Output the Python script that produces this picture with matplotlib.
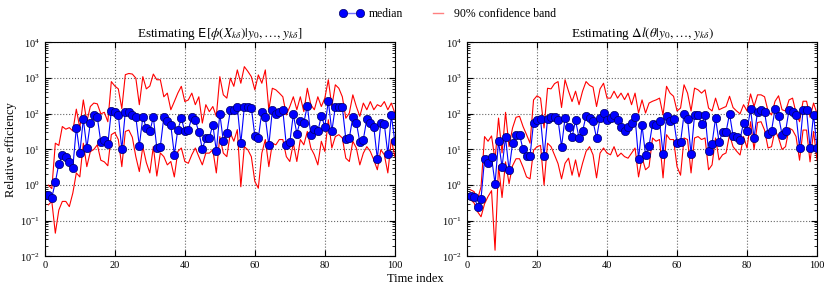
import numpy as np
import matplotlib
matplotlib.use('Agg')
import matplotlib.pyplot as plt
from matplotlib.lines import Line2D
from matplotlib.legend_handler import HandlerLine2D
from matplotlib.ticker import LogLocator, NullFormatter

plt.rcParams['font.family'] = ['Liberation Serif', 'DejaVu Serif']
plt.rcParams['mathtext.fontset'] = 'custom'
plt.rcParams['mathtext.rm'] = 'STIXGeneral'
plt.rcParams['mathtext.it'] = 'STIXGeneral:italic'
plt.rcParams['mathtext.bf'] = 'STIXGeneral:bold'
plt.rcParams['mathtext.sf'] = 'DejaVu Sans'

# Time index 1..100
t = np.arange(1, 101)

# Left panel: estimating E[phi(X)|y]
left_median = [0.54, 0.45, 1.2, 4.0, 7.0, 6.2, 4.6, 3.1, 41, 7.9,
               71, 11, 54, 90, 79, 16, 18, 14, 121, 109,
               94, 10, 114, 112, 92, 81, 12.7, 81, 40, 32,
               81, 11, 12, 81, 61, 47, 7.2, 36, 74, 32,
               35, 81, 65, 31, 10.4, 21, 21, 50, 9, 100,
               17, 29, 124, 124, 154, 15, 154, 154, 148, 24,
               21, 111, 81, 13, 124, 98, 111, 124, 13, 16,
               96, 28, 64, 56, 170, 25, 37, 32, 88, 44,
               228, 32, 160, 158, 151, 19.5, 21, 81, 57, 16,
               19, 72, 55, 42, 5.4, 57, 51, 7.4, 90, 17]
left_upper = [1.0, 0.8, 15, 13, 44, 37, 41, 33, 135, 40,
              245, 60, 160, 200, 190, 100, 110, 60, 800, 600,
              500, 140, 1250, 1350, 1300, 1000, 180, 1100, 500, 600,
              1300, 900, 900, 300, 380, 130, 220, 380, 590, 220,
              245, 380, 180, 300, 55, 180, 115, 160, 85, 1100,
              340, 275, 1000, 590, 1700, 720, 2100, 1550, 1100, 470,
              1230, 720, 1700, 130, 520, 470, 380, 300, 93, 160,
              300, 130, 300, 115, 520, 180, 130, 300, 160, 275,
              900, 160, 650, 520, 300, 75, 105, 340, 160, 85,
              200, 130, 220, 130, 180, 160, 220, 130, 200, 105]
left_lower = [0.28, 0.35, 0.045, 0.2, 0.35, 0.35, 0.25, 0.6, 2.2, 1.7,
              15, 3.3, 8.7, 10, 13.5, 5, 4.5, 3.5, 26, 30,
              19, 3.3, 32, 35, 22, 6.3, 2.4, 12, 4.3, 2.2,
              12, 1.8, 8, 6.3, 3.7, 4.6, 1.7, 8.8, 11, 4.6,
              4.1, 7.1, 11, 6.3, 3.7, 7.9, 7.9, 9.8, 2.2, 23,
              7.9, 6.3, 29, 17, 36, 0.9, 12, 9.8, 6.3, 1.27,
              0.82, 7.9, 19, 3.3, 15, 13.5, 19, 19, 6.3, 4.6,
              15, 4.6, 19, 13.5, 32, 11, 7.1, 3.7, 17, 8.8,
              68, 11, 23, 26, 21, 5.7, 4.6, 17, 11, 3.7,
              7.9, 12, 8.8, 5.1, 2.7, 9.8, 7.1, 2.2, 19, 6.3]

# Right panel: estimating Delta l(theta|y)
right_median = [0.5, 0.48, 0.25, 0.42, 5.4, 4.3, 6.0, 1.1, 17, 3.2,
                22, 2.6, 15, 25, 26, 10, 6.6, 6.6, 57, 65,
                71, 6.5, 71, 81, 81, 68, 12, 76, 42, 22,
                65, 21, 32, 88, 76, 61, 21, 76, 105, 65,
                76, 92, 65, 44, 32, 42, 55, 81, 5.4, 47,
                7.1, 12.7, 52, 50, 61, 7.6, 87, 61, 71, 15,
                16, 98, 71, 7.6, 90, 93, 52, 93, 8.8, 14.5,
                76, 16, 31, 31, 100, 24, 22, 19, 57, 34,
                135, 21, 116, 130, 110, 27, 34, 135, 87, 26,
                32, 130, 116, 94, 11, 124, 124, 11, 94, 11]
right_upper = [0.74, 0.66, 0.4, 0.9, 23, 17, 24, 5, 76, 8,
               110, 12, 40, 80, 85, 44, 26, 15, 245, 320,
               275, 40, 520, 500, 700, 800, 150, 900, 430, 220,
               430, 180, 430, 800, 630, 560, 160, 500, 720, 275,
               275, 430, 275, 380, 250, 380, 180, 380, 105, 245,
               105, 200, 225, 245, 275, 93, 590, 380, 310, 120,
               145, 650, 380, 120, 525, 470, 380, 470, 145, 120,
               275, 130, 145, 160, 310, 150, 120, 100, 180, 120,
               360, 160, 340, 340, 300, 120, 93, 225, 320, 130,
               120, 245, 275, 105, 60, 225, 225, 80, 200, 100]
right_lower = [0.39, 0.32, 0.18, 0.13, 0.3, 0.48, 0.7, 0.015, 3.5, 0.45,
               4.5, 1.1, 3.5, 5.5, 5.5, 3.2, 1.7, 1.5, 9.5, 12,
               13, 1.0, 15, 12, 7, 4, 1.5, 4.1, 5.7, 1.9,
               5.1, 1.7, 4.1, 8.8, 12, 7.1, 1.6, 7.9, 11, 7.9,
               7.1, 12, 6.3, 7.9, 6.3, 5.7, 7.9, 11, 1.7, 6,
               2.7, 3.3, 21, 17, 19, 1.6, 26, 19, 19, 3.3,
               1.9, 21, 19, 2.2, 21, 23, 19, 21, 2.7, 3.7,
               21, 5.1, 7.1, 8, 26, 12, 9, 7, 23, 11,
               60, 10, 57, 60, 35, 11, 12, 35, 21, 10,
               12, 40, 35, 23, 5, 35, 35, 4.5, 32, 5]

titles = [r'Estimating $\mathsf{E}[\phi(X_{k\delta})|y_0,\ldots,y_{k\delta}]$',
          r'Estimating $\Delta l(\theta|y_0,\ldots,y_{k\delta})$']

fig = plt.figure(figsize=(8.3, 2.92), dpi=100)
ax1 = fig.add_axes([0.054, 0.1216, 0.4217, 0.733])
ax2 = fig.add_axes([0.5627, 0.1216, 0.4217, 0.733])

panels = [(ax1, left_median, left_upper, left_lower),
          (ax2, right_median, right_upper, right_lower)]

for k, (ax, med, up, lo) in enumerate(panels):
    ax.plot(t, up, color='red', lw=0.8)
    ax.plot(t, lo, color='red', lw=0.8)
    ax.plot(t, med, color='blue', lw=0.8, marker='o', ms=6,
            mfc='blue', mec='#000066', mew=0.5)
    ax.set_yscale('log')
    ax.set_xlim(0, 100)
    ax.set_ylim(1e-2, 1e4)
    ax.set_xticks([0, 20, 40, 60, 80, 100])
    ax.set_yticks([1e-2, 1e-1, 1e0, 1e1, 1e2, 1e3, 1e4])
    ax.yaxis.set_minor_locator(LogLocator(base=10, subs=np.arange(2, 10), numticks=20))
    ax.yaxis.set_minor_formatter(NullFormatter())
    ax.tick_params(which='both', direction='in', top=True, right=True, labelsize=7.5)
    ax.tick_params(which='major', length=4)
    ax.tick_params(which='minor', length=2)
    ax.grid(True, which='major', linestyle=':', color='0.4', lw=0.8)
    ax.set_title(titles[k], fontsize=9.5, pad=3)

ax1.set_ylabel('Relative efficiency', fontsize=9, labelpad=2)
fig.text(0.5, 0.035, 'Time index', ha='center', fontsize=9)

# lighter proxy handles, like the reference legend
h_med = Line2D([], [], color=(0.45, 0.45, 1.0), lw=1.0, marker='o', ms=6,
               mfc='blue', mec='#000066', mew=0.5)
h_band = Line2D([], [], color=(1.0, 0.5, 0.5), lw=1.0)
fig.legend([h_med, h_band], ['median', '90% confidence band'],
           loc='center', bbox_to_anchor=(0.542, 0.952), ncol=2,
           frameon=False, fontsize=8.5, numpoints=2, handlelength=1.45,
           columnspacing=2.2, handletextpad=0.7,
           handler_map={h_med: HandlerLine2D(marker_pad=0, numpoints=2)})

fig.savefig('out.png', dpi=100)
